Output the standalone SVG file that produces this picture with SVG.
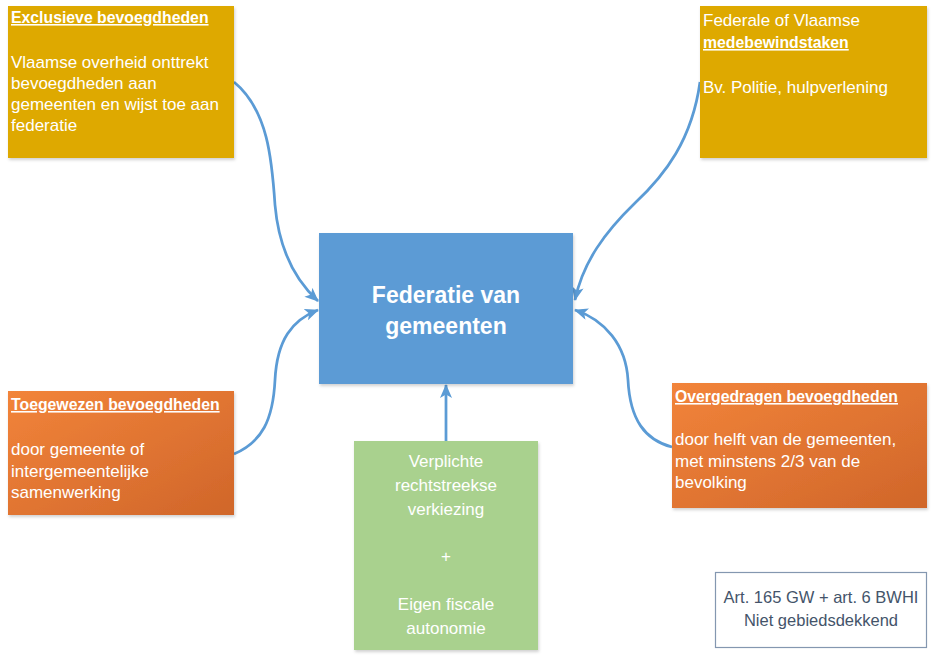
<svg xmlns="http://www.w3.org/2000/svg" width="933" height="655" viewBox="0 0 933 655">
<defs>
<style>
.t{font-family:"Liberation Sans",Arial,sans-serif;fill:#ffffff;font-size:17px}
.b{font-weight:bold;text-decoration:underline;font-size:15.8px}
.c{text-anchor:middle}
.big{font-size:23px;font-weight:bold}
.g{font-size:17px}
.gold{fill:#DEA900}
.note{font-family:"Liberation Sans",Arial,sans-serif;fill:#44546A;font-size:16.5px;text-anchor:middle}
.conn{fill:none;stroke:#5B9BD5;stroke-width:2.75}
</style>
<linearGradient id="og" x1="0" y1="0" x2="1" y2="1">
<stop offset="0" stop-color="#F2843A"/>
<stop offset="1" stop-color="#D0662A"/>
</linearGradient>
<filter id="sh" x="-5%" y="-5%" width="115%" height="115%">
<feDropShadow dx="1" dy="2" stdDeviation="1.5" flood-color="#000" flood-opacity="0.18"/>
</filter>
<marker id="ah" viewBox="0 0 14 12" refX="13" refY="6" markerWidth="14" markerHeight="12" markerUnits="userSpaceOnUse" orient="auto">
<path d="M0,0 L14,6 L0,12 L3.5,6 Z" fill="#5B9BD5"/>
</marker>
</defs>
<rect width="933" height="655" fill="#ffffff"/>

<g id="connectors">
<path class="conn" marker-end="url(#ah)" d="M234,82 C268,110 272,160 275,205 C279,250 295,280 318,301"/>
<path class="conn" marker-end="url(#ah)" d="M234,454 C262,442 273,420 275,380 C277,340 292,320 318,310"/>
<path class="conn" marker-end="url(#ah)" d="M700,82 C692,140 665,175 635,203 C605,232 583,262 575,300"/>
<path class="conn" marker-end="url(#ah)" d="M672,447 C645,440 630,420 628,380 C626,345 605,320 575,310"/>
<path class="conn" marker-end="url(#ah)" d="M446,441 L446,385"/>
</g>

<g id="exclusieve">
<rect x="8" y="6" width="226" height="152" class="gold" filter="url(#sh)"/>
<text class="t b" x="11" y="23">Exclusieve bevoegdheden</text>
<text class="t" x="11" y="68">Vlaamse overheid onttrekt</text>
<text class="t" x="11" y="89">bevoegdheden aan</text>
<text class="t" x="11" y="110">gemeenten en wijst toe aan</text>
<text class="t" x="11" y="131">federatie</text>
</g>

<g id="medebewind">
<rect x="700" y="6" width="227" height="152" class="gold" filter="url(#sh)"/>
<text class="t" x="703" y="26">Federale of Vlaamse</text>
<text class="t b" x="703" y="48">medebewindstaken</text>
<text class="t" x="703" y="93">Bv. Politie, hulpverlening</text>
</g>

<g id="federatie">
<rect x="319" y="233" width="254" height="151" fill="#5B9BD5" filter="url(#sh)"/>
<text class="t c big" x="446" y="303">Federatie van</text>
<text class="t c big" x="446" y="334">gemeenten</text>
</g>

<g id="toegewezen">
<rect x="8" y="391" width="226" height="124" fill="url(#og)" filter="url(#sh)"/>
<text class="t b" x="11" y="410">Toegewezen bevoegdheden</text>
<text class="t" x="11" y="455">door gemeente of</text>
<text class="t" x="11" y="477">intergemeentelijke</text>
<text class="t" x="11" y="498">samenwerking</text>
</g>

<g id="overgedragen">
<rect x="672" y="383" width="255" height="125" fill="url(#og)" filter="url(#sh)"/>
<text class="t b" x="675" y="402">Overgedragen bevoegdheden</text>
<text class="t" x="675" y="445">door helft van de gemeenten,</text>
<text class="t" x="675" y="467">met minstens 2/3 van de</text>
<text class="t" x="675" y="488">bevolking</text>
</g>

<g id="verkiezing">
<rect x="354" y="441" width="184" height="209" fill="#A9D18E" filter="url(#sh)"/>
<text class="t c g" x="446" y="467">Verplichte</text>
<text class="t c g" x="446" y="491">rechtstreekse</text>
<text class="t c g" x="446" y="515">verkiezing</text>
<text class="t c g" x="446" y="562">+</text>
<text class="t c g" x="446" y="610">Eigen fiscale</text>
<text class="t c g" x="446" y="634">autonomie</text>
</g>

<g id="noot">
<rect x="715.5" y="572.5" width="211" height="75" fill="#ffffff" stroke="#8497B0" stroke-width="1.2"/>
<text class="note" x="821" y="603">Art. 165 GW + art. 6 BWHI</text>
<text class="note" x="821" y="626">Niet gebiedsdekkend</text>
</g>
</svg>
